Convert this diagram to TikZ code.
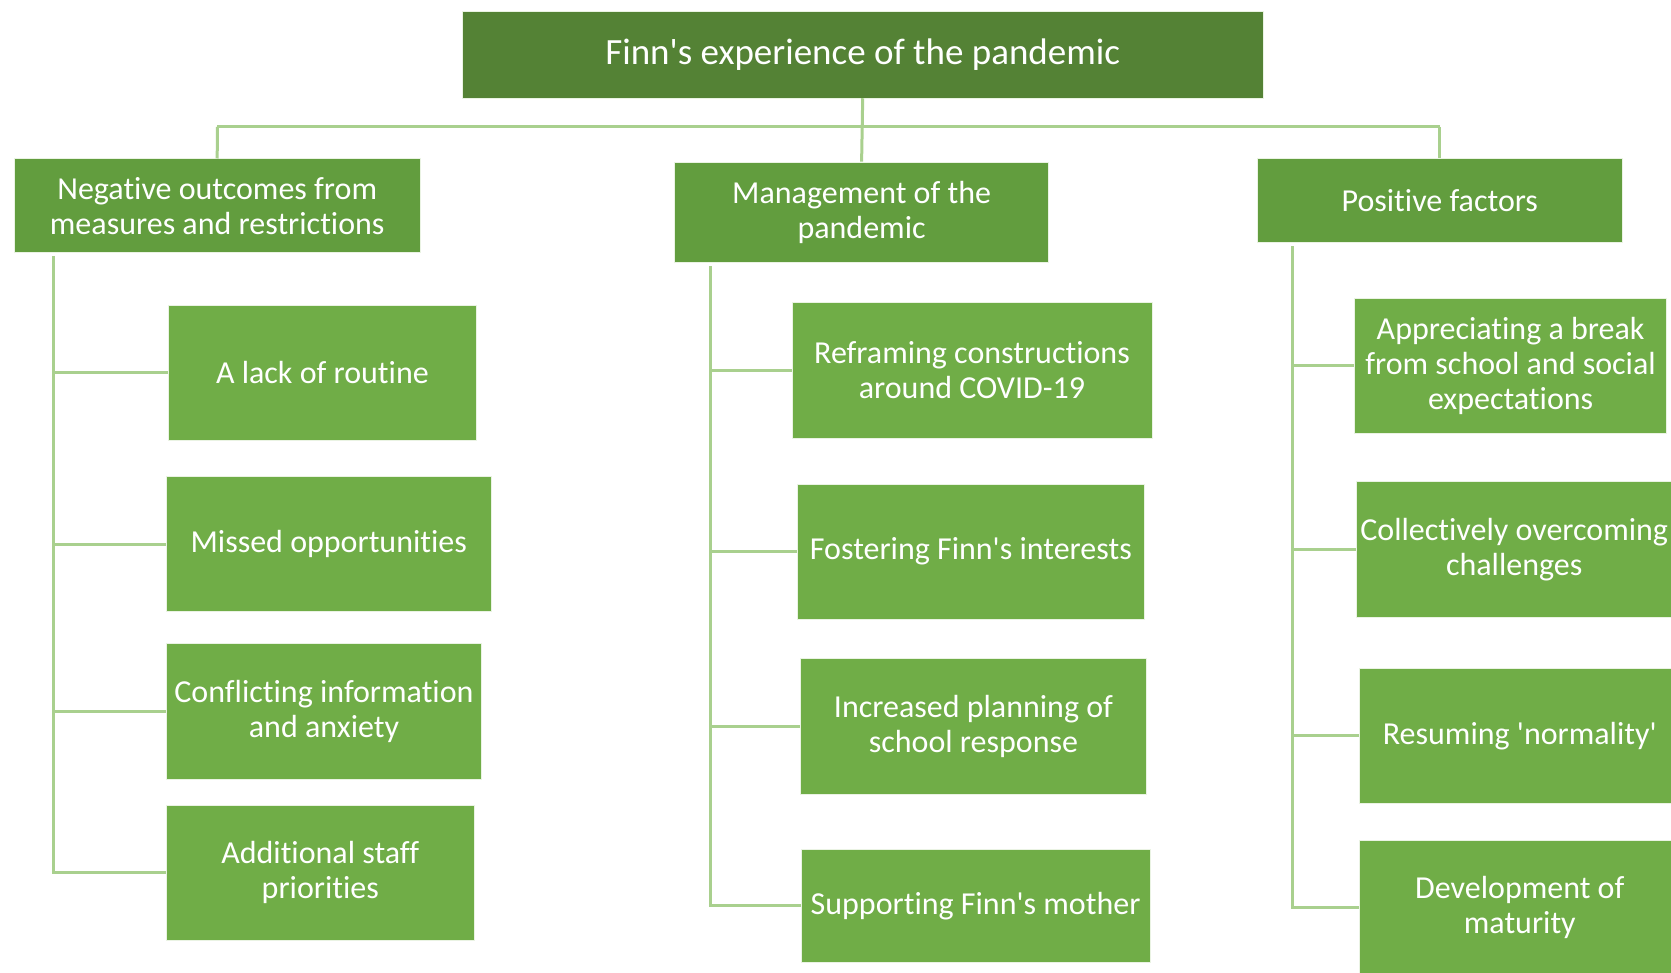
\documentclass[tikz,border=0pt]{standalone}
\usepackage{fontspec}
\setmainfont{Carlito}[Ligatures={NoCommon}]
\definecolor{topgreen}{HTML}{548235}
\definecolor{headgreen}{HTML}{629D3E}
\definecolor{leafgreen}{HTML}{70AD47}
\definecolor{linkgreen}{HTML}{A9D08E}
\newcommand{\apos}{\textquotesingle}
\tikzset{
  box/.style={rectangle, inner sep=0pt, draw=white!85!leafgreen, line width=0.6pt, text=white, align=center, font=\fontsize{32}{35}\selectfont},
  topbox/.style={box, fill=topgreen, font=\fontsize{37}{40}\selectfont},
  headbox/.style={box, fill=headgreen},
  leafbox/.style={box, fill=leafgreen},
  link/.style={draw=linkgreen, line width=3pt},
}
\begin{document}
\begin{tikzpicture}[x=1pt,y=-1pt]
\useasboundingbox (0,0) rectangle (1671,973);
\clip (0,0) rectangle (1671,973);
% top
\node[topbox, minimum width=800.5pt, minimum height=86.3pt] (top) at (862.7,54.8) {Finn\apos s experience of the pandemic};
% headers
\node[headbox, minimum width=406pt, minimum height=93.8pt] (lh) at (217.2,205.7) {Negative outcomes from\\measures and restrictions};
\node[headbox, minimum width=374pt, minimum height=100pt] (mh) at (861.6,212) {Management of the\\pandemic};
\node[headbox, minimum width=364.5pt, minimum height=83.2pt] (rh) at (1439.8,200.4) {Positive factors};
% left leaves
\node[leafbox, minimum width=308pt, minimum height=135.3pt] (l1) at (322.4,372.5) {A lack of routine};
\node[leafbox, minimum width=325pt, minimum height=135.3pt] (l2) at (328.8,544) {Missed opportunities};
\node[leafbox, minimum width=315.4pt, minimum height=135.3pt] (l3) at (324,711.4) {Conflicting information\\and anxiety};
\node[leafbox, minimum width=308pt, minimum height=134.3pt] (l4) at (320.3,872.8) {Additional staff\\priorities};
% middle leaves
\node[leafbox, minimum width=360pt, minimum height=135.3pt] (m1) at (972,370.3) {Reframing constructions\\around COVID-19};
\node[leafbox, minimum width=347.5pt, minimum height=135.3pt] (m2) at (970.9,551.5) {Fostering Finn\apos s interests};
\node[leafbox, minimum width=346.4pt, minimum height=135.3pt] (m3) at (973.5,726.3) {Increased planning of\\school response};
\node[leafbox, minimum width=348.5pt, minimum height=112.9pt] (m4) at (975.6,905.8) {Supporting Finn\apos s mother};
% right leaves
\node[leafbox, minimum width=312.3pt, minimum height=135.3pt] (r1) at (1510.6,366) {Appreciating a break\\from school and social\\expectations};
\node[leafbox, minimum width=315pt, minimum height=135.3pt] (r2) at (1514.2,549.4) {Collectively overcoming\\challenges};
\node[leafbox, minimum width=322pt, minimum height=135.3pt] (r3) at (1519.8,735.9) {Resuming \apos normality\apos};
\node[leafbox, minimum width=322pt, minimum height=135.3pt] (r4) at (1519.8,907.5) {Development of\\maturity};
% connectors top
\coordinate (hl) at (217.4,126.8);
\coordinate (hr) at (1439.8,126.8);
\draw[link] (top.south) -- (mh.north);
\draw[link] (hl) -- (hr);
\draw[link] (hl) -- (lh.north);
\draw[link] (hr) -- (rh.north);
% left spine
\coordinate (ls) at (53.3,255.8);
\draw[link] (ls) |- (l4.west);
\draw[link] (ls |- l1.west) -- (l1.west);
\draw[link] (ls |- l2.west) -- (l2.west);
\draw[link] (ls |- l3.west) -- (l3.west);
% middle spine
\coordinate (ms) at (710.8,266.4);
\draw[link] (ms) |- (m4.west);
\draw[link] (ms |- m1.west) -- (m1.west);
\draw[link] (ms |- m2.west) -- (m2.west);
\draw[link] (ms |- m3.west) -- (m3.west);
% right spine
\coordinate (rs) at (1292.7,246.2);
\draw[link] (rs) |- (r4.west);
\draw[link] (rs |- r1.west) -- (r1.west);
\draw[link] (rs |- r2.west) -- (r2.west);
\draw[link] (rs |- r3.west) -- (r3.west);
\end{tikzpicture}
\end{document}
